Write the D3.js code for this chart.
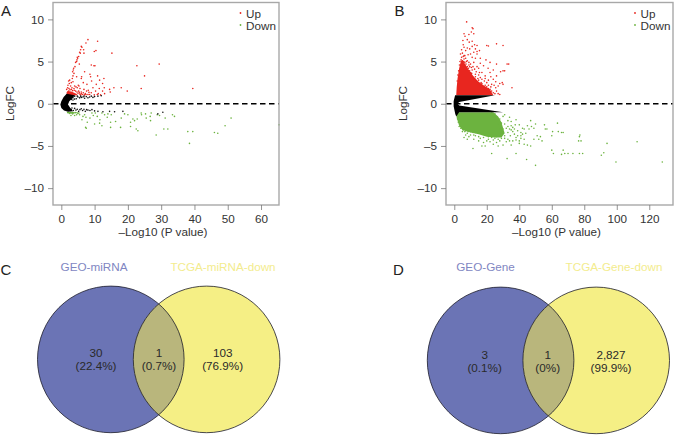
<!DOCTYPE html>
<html><head><meta charset="utf-8">
<script src="https://cdn.jsdelivr.net/npm/d3@7"></script>
<style>html,body{margin:0;padding:0;background:#fff}svg{display:block}text{font-family:"Liberation Sans",Arial,sans-serif}</style>
</head><body><svg id="c" width="674" height="435"></svg>
<script>
const yTicks=[-10,-5,0,5,10];
const xTicksA=[0,10,20,30,40,50,60];
const xTicksB=[0,20,40,60,80,100,120];
// Panel A: individually read points
const upA=[[8,7.6],[7.4,7.2],[10.9,7.4],[6,6.8],[6.2,6.7],[5.8,6.4],[6.7,6.4],[5.5,6.1],[6.8,6],[5.7,6],[10.4,6.3],[9.9,6.2],[15.2,6],[5.2,5.6],[4.9,5.4],[4.7,5.2],[4.6,5],[4.3,4.9],[4.8,5.5],[4.1,4.4],[3.7,4.2],[3.6,4],[3.4,3.8],[3.8,3.6],[3.5,3.3],[9,4.6],[9.8,4.5],[10.1,4.5],[5.4,4.7],[29.4,4.7],[22.7,4.5],[25,3.3],[7,3.8],[8.6,3.5],[8.8,3.2],[10.9,3.3],[12.8,3],[11.5,2.8],[12.4,2.4],[6.1,3.2],[6,3],[4.6,3.2],[3.3,3],[2.5,2.8],[2.2,2.7],[2.4,2.4],[3,2.5],[3.5,2.6],[5.1,2.2],[5.3,2.1],[6.6,2.5],[7.7,2.3],[9.1,2.7],[10.5,2.3],[11.4,1.8],[8.1,1.6],[12.9,1.9],[14.5,1.7],[14.7,1.4],[15.8,1.9],[18,1.9],[19.8,1.5],[24,1.8],[39.5,1.8],[12.4,1.5],[13,1.2],[11.1,1.2],[6,1.4],[6.4,1.1],[6.8,1.7],[7.2,1.2],[7.6,1.5],[8.5,1.1],[9,1.3],[9.5,1.9],[9.9,1.05],[10.3,1.5],[10.8,1.1],[11.8,1.05],[5.6,1.8],[5.2,1.5],[4.8,1.9],[4.4,2],[4,2.1],[2,2.2],[1.9,1.9],[2.8,2.1],[3.2,1.9],[3.8,1.8],[5.5,1.15],[6,1.2],[7,1.05],[8,1.1],[1.6,1.7],[2.3,1.8],[2.6,1.65],[3,1.7],[3.4,1.55],[3.9,1.6],[4.3,1.5],[4.7,1.4],[5,1.25],[5.4,1.35],[5.8,1.05],[6.6,1.3],[7.4,1.1],[8.3,1.35],[1.8,1.3],[2.2,1.5]];
const downA=[[65.4,-2.5],[51,-1.7],[49.2,-2.6],[47,-3.5],[46,-3.4],[39.5,-3.3],[38,-3.3],[38.5,-4.7],[28.5,-3.7],[23,-3.2],[22.5,-3],[30.8,-3],[32,-3],[34,-1.5],[33.4,-1.3],[31.2,-1.7],[29.5,-1.4],[28.8,-1.3],[27,-1.1],[26.7,-1.5],[26.8,-2],[25.5,-1.7],[25.3,-1.2],[24,-1.1],[24.1,-1.3],[22.8,-1.8],[22,-2],[21.5,-1.8],[20.8,-2.2],[20.8,-2.7],[20,-1.3],[19,-1.2],[18,-1.7],[17.8,-2.8],[16.3,-2.1],[15,-1.3],[14.8,-2.2],[14.8,-2.8],[14,-1.2],[13.8,-1.6],[13,-1.3],[12.2,-1.1],[12.2,-2.6],[11.6,-1.9],[11.5,-2.3],[10.8,-1.5],[10,-2.4],[10.2,-1.1],[9.6,-1.4],[9.2,-1.1],[8.6,-1.7],[7.8,-2.2],[7.5,-2.9],[7.3,-2.8],[7.4,-1.6],[7,-1.3],[6.5,-1.5],[6.2,-1.9],[5.5,-1.3],[5.3,-1.1],[4.6,-1.3],[4,-1.4],[3.7,-1.1],[3.4,-1.2],[2.9,-1.4],[2.5,-1.15],[2.2,-1.05],[2.7,-1.05],[3,-1.1],[3.3,-1.05],[4.3,-1.05],[4.8,-1.1],[5,-1.15],[1.9,-1.05]];
const midA=[[3,0.8],[3.5,0.7],[4,0.9],[4.5,0.6],[5,0.8],[5.5,0.7],[6,0.75],[6.5,0.8],[7,0.65],[7.5,0.85],[8,0.7],[8.5,0.8],[9,0.9],[9.5,0.75],[10,0.85],[11,0.9],[12,0.95],[3,0.5],[3.5,0.45],[4,0.55],[4.8,0.9],[5.8,0.9],[6.8,0.9],[2.5,-0.6],[3,-0.7],[3.2,-0.5],[3.6,-0.8],[4,-0.55],[4.4,-0.75],[4.8,-0.65],[5.2,-0.9],[5.6,-0.7],[6,-0.6],[6.4,-0.8],[6.8,-0.65],[7.2,-0.9],[7.6,-0.7],[8,-0.75],[8.6,-0.8],[9.2,-0.7],[10,-0.85],[11,-0.9],[12.5,-0.95],[14.5,-0.9],[16,-0.95],[18.5,-0.9],[30.5,-1],[29,-1.2]];
// Panel A: outlines of the solid, overplotted masses
const massMidA=[[1.6,1.2],[0.7,0.8],[0,0.3],[-0.3,-0.1],[0,-0.5],[0.8,-0.8],[2,-0.95],[3.5,-0.9],[2.8,-0.55],[2,-0.1],[2.4,0.3],[3.5,0.7],[4,1]];
const massUpA=[[1.5,1],[1.8,1.5],[3,1.45],[4.5,1.2],[5,1]];
const massDownA=[[1.9,-1],[2.1,-1.12],[4.2,-1.12],[5,-1]];
// Panel B: individually read points
const upB=[[7.6,9.7],[11,9],[11.5,8.9],[10.5,8.5],[9,8.2],[12,8.3],[6,8.3],[6.6,8],[5.3,7.5],[8,7.6],[9.2,7.3],[11,7.4],[12.5,7],[20,6.9],[21,6.85],[26,7.1],[30,6.9],[11,6.8],[14,6.9],[5.5,7],[6,6.7],[8,6.6],[9.5,6.5],[13,6.5],[14,6.2],[15.5,6.3],[12,6.1],[7,6.3],[4.5,6.4],[5,6],[10,5.9],[14,5.9],[3.8,5.9],[8.5,5.8],[6.5,5.7],[11,5.5],[13,5.4],[16,5.4],[19.5,5.2],[26,4.7],[22,4.9],[32.5,4.7],[33.5,4.7],[18,4.5],[16,4.8],[12,4.9],[10,4.7],[14,4.4],[15,4.2],[20.8,4.2],[24,4],[22,3.7],[17,3.7],[13.5,3.8],[26,3.3],[30,3.9],[31,3.9],[28.5,3.8],[22.5,3.2],[19,3.3],[24,2.9],[28,2.4],[29.5,2.5],[30,2.3],[27,2.1],[25.5,2.6],[35.5,1.9],[21,2.8],[23,2.3],[25.5,1.9],[22,1.7],[8,5.1],[9,4.9],[7,5.4],[6,5.7],[5.5,5.6],[4.5,5.5],[11.5,4.4],[12.5,4.1],[10.5,4.3],[9.5,4.4],[13,3.5],[15,3.4],[16,3.1],[17,2.9],[18.5,2.7],[20,2.5],[16.5,2.5],[20,2],[21,1.8],[23,1.5],[24,1.3],[25,1.2],[26,1.5],[27,1.2],[28,1.1],[24.5,2.2],[19,3],[14.5,3],[15.5,3.7],[3.5,5],[4.2,5.2],[5,5.1],[5.8,5],[6.5,4.9],[7.2,4.7],[8,4.4],[8.7,4.2],[9.4,3.9],[10,3.7],[10.7,3.6],[11.3,3.2],[12,3],[12.7,2.9],[13.4,2.7],[14,2.6],[14.8,2.4],[15.5,2.3],[16,2],[17,2.1],[17.7,1.9],[18.5,1.8],[19.2,1.6],[20,1.5],[21,1.4],[22,1.3],[23,1.1],[18,1.4],[20.5,1.15],[3.2,4.6],[2.7,3.9],[2.2,3.4],[1.8,2.7],[6,5.3],[7.5,5],[9,4.6],[11,4],[13,3.2],[15,2.8],[17,2.4],[19,2.2],[21,2.2],[22.5,2]];
const downB=[[128,-6.9],[112.5,-4.5],[99.5,-6.9],[94,-4.7],[92,-5.8],[90.5,-6.1],[79,-5.9],[77,-5.9],[78,-4.4],[76.5,-4.4],[77,-3.9],[77.3,-3.7],[73,-5.9],[70,-5.9],[68,-5.9],[67,-5.5],[66,-6],[61,-5.9],[60,-5.5],[50,-7.3],[44.5,-6.6],[32.5,-6.5],[23,-5.9],[38,-5.9],[11.5,-5.3],[17,-5],[19,-5],[24,-4.8],[27,-5],[30,-4.9],[35,-4.9],[40,-4.7],[43,-4.8],[45,-4.9],[47,-5],[49,-4.2],[51,-3.8],[52,-4.2],[53,-3.9],[54,-4.4],[60,-3.8],[64,-3.3],[66,-3.4],[67,-3.4],[60.5,-3.3],[63.5,-2.3],[55.5,-2.5],[57,-3],[56,-3],[47,-2],[50,-2.4],[49,-2.9],[45,-2.6],[43,-3],[46,-3],[47.5,-2.7],[40,-2.5],[42,-2.9],[38,-1.9],[35,-2.1],[34,-1.6],[30,-1.5],[8,-4.2],[6,-4],[12,-4.2],[15,-4.4],[18,-4.6],[22,-4.5],[26,-4.6],[32,-4.5],[36,-4.4],[38,-4.3],[41,-4.1],[42,-3.6],[44,-3.5],[37,-3.6],[39,-3.2],[41,-3.4],[36,-2.8],[37.5,-2.5],[33,-2],[31,-1.3],[35,-3.1],[38,-4],[40,-4.4],[34,-4.4],[28,-4.4],[24,-4.3],[20,-4.4],[16,-4.1],[13,-3.8],[10,-3.7],[8,-3.5],[6.5,-3.3],[5,-3.3],[9,-3.9],[4,-2.9],[3,-2.7],[5.5,-3.1],[7,-3.2],[8.5,-3.3],[10,-3.3],[11.5,-3.4],[13,-3.4],[14.5,-3.5],[16,-3.5],[17.5,-3.6],[19,-3.7],[21,-3.9],[23,-4],[25,-4.1],[27,-4.2],[29,-4.1],[31,-4.1],[33,-4.2],[34.5,-3.8],[33,-3.4],[31,-3.8],[29,-3.5],[30,-3],[28,-3],[32,-2.9],[31,-2.4],[29,-2.3],[28,-1.8],[26,-1.6],[27,-2.4],[24,-1.5],[22,-1.3],[25,-1.2],[23,-1.1],[20,-1.2],[26,-3.9],[28,-3.8],[30,-3.4],[33,-2.7],[35,-2.6],[36,-3.3],[34,-3],[37,-3],[39,-3.8],[41,-3.8],[43,-4.2],[12,-3.7],[15,-3.9],[18,-4],[21,-4.2],[7,-3.7],[5,-2.9],[3.5,-2.2],[2.5,-2.2],[2,-1.8]];
// Panel B: outlines of the solid, overplotted masses
const massUpB=[[1.2,1],[1.5,2],[2,3],[3,4.2],[4,5],[5,5.2],[7,4.6],[9,4],[12,3.2],[15,2.6],[18,2.2],[22,1.7],[24,1]];
const massMidB=[[0.5,1],[25,1],[3,0.2],[2,0],[3,-0.2],[30,-1],[3,-1],[1.2,-1.5],[0.6,-1.2],[-0.4,-0.3],[-0.4,0.3]];
const massDownB=[[1.2,-1],[1.5,-1.7],[3,-2.6],[5,-3.1],[10,-3.4],[15,-3.6],[20,-3.9],[25,-4],[29,-4],[31,-3.5],[29,-2.2],[27,-1.5],[24,-1]];
// Venn regions
const vennLabelsC=["30","1","103"], vennPctC=["(22.4%)","(0.7%)","(76.9%)"];
const vennLabelsD=["3","1","2,827"], vennPctD=["(0.1%)","(0%)","(99.9%)"];
const RED="#e8261f",GREEN="#6cb33f",TXT="#333",FRAME="#a8a8a8",BLUE="#6b74b5",YEL="#f5ef85",OVER="#b9b67c",FS=11.7;
const svg=d3.select("#c");
function volcano(o){
  const x=d3.scaleLinear().domain(o.xd).range([o.l,o.r]);
  const y=d3.scaleLinear().domain([-12,12]).range([205,2.5]);
  const g=svg.append("g");
  const line=d3.line().x(d=>x(d[0])).y(d=>y(d[1])).curve(d3.curveLinearClosed);
  const mass=(d,c)=>g.append("path").attr("d",line(d)).attr("fill",c);
  const dots=(d,c)=>g.append("g").selectAll("circle").data(d).join("circle").attr("cx",p=>x(p[0])).attr("cy",p=>y(p[1])).attr("r",.8).attr("fill",c);
  mass(o.mu,RED);mass(o.md,GREEN);
  dots(o.up,RED);dots(o.down,GREEN);if(o.mid)dots(o.mid,"#111");
  mass(o.mm,"#000");
  g.append("line").attr("x1",o.l).attr("x2",o.r).attr("y1",y(0)).attr("y2",y(0)).attr("stroke","#000").attr("stroke-width",1.4).attr("stroke-dasharray","5.5 3.5");
  g.append("rect").attr("x",o.l).attr("y",2.5).attr("width",o.r-o.l).attr("height",202.5).attr("fill","none").attr("stroke",FRAME).attr("stroke-width",1.4);
  const fmt=d=>d<0?"–"+Math.abs(d):""+d;
  const ax=g.append("g").attr("transform","translate(0,205)").call(d3.axisBottom(x).tickValues(o.xt).tickFormat(fmt).tickSize(5).tickPadding(5));
  const ay=g.append("g").attr("transform",`translate(${o.l},0)`).call(d3.axisLeft(y).tickValues(yTicks).tickFormat(fmt).tickSize(5).tickPadding(4));
  [ax,ay].forEach(a=>{a.select(".domain").remove();a.selectAll("line").attr("stroke","#777").attr("stroke-width",.8);a.selectAll("text").attr("fill",TXT).attr("font-size",FS).attr("font-family",'"Liberation Sans",sans-serif');});
  g.append("text").attr("x",(o.l+o.r)/2-3).attr("y",236).attr("text-anchor","middle").attr("font-size",FS).attr("fill",TXT).text("–Log10 (P value)");
  g.append("text").attr("transform",`translate(${o.l-39},103.5) rotate(-90)`).attr("text-anchor","middle").attr("font-size",FS).attr("fill",TXT).text("LogFC");
  [["Up",RED,18],["Down",GREEN,30]].forEach(([t,c,b])=>{
    g.append("circle").attr("cx",o.lx).attr("cy",b-5).attr("r",.9).attr("fill",c);
    g.append("text").attr("x",o.lx+5.5).attr("y",b).attr("font-size",FS).attr("fill",TXT).text(t);
  });
  g.append("text").attr("x",o.px).attr("y",16).attr("font-size",15).attr("fill","#222").text(o.name);
}
volcano({name:"A",px:1,l:53,r:279,xd:[-2.5,65.4],xt:xTicksA,up:upA,down:downA,mid:midA,mu:massUpA,md:massDownA,mm:massMidA,lx:240.5});
volcano({name:"B",px:394.5,l:446,r:673,xd:[-5.1,134.6],xt:xTicksB,up:upB,down:downB,mu:massUpB,md:massDownB,mm:massMidB,lx:635});
function venn(o){
  const g=svg.append("g");
  const id="clip"+o.name;
  g.append("clipPath").attr("id",id).append("circle").attr("cx",o.c1).attr("cy",o.cy).attr("r",o.r);
  g.append("circle").attr("cx",o.c1).attr("cy",o.cy).attr("r",o.r).attr("fill",BLUE);
  g.append("circle").attr("cx",o.c2).attr("cy",o.cy).attr("r",o.r).attr("fill",YEL);
  g.append("circle").attr("cx",o.c2).attr("cy",o.cy).attr("r",o.r).attr("fill",OVER).attr("clip-path",`url(#${id})`);
  [o.c1,o.c2].forEach(c=>g.append("circle").attr("cx",c).attr("cy",o.cy).attr("r",o.r).attr("fill","none").attr("stroke","#1c1c2a").attr("stroke-width",.8));
  o.tx.forEach((t,i)=>{
    g.append("text").attr("x",t).attr("y",o.b).attr("text-anchor","middle").attr("font-size",FS).attr("fill","#2a2a2a").text(o.labels[i]);
    g.append("text").attr("x",t).attr("y",o.b+13.7).attr("text-anchor","middle").attr("font-size",FS).attr("fill","#2a2a2a").text(o.pct[i]);
  });
  g.append("text").attr("x",o.t1).attr("y",270.5).attr("text-anchor","middle").attr("font-size",FS).attr("fill","#7f86c2").text(o.n1);
  g.append("text").attr("x",o.t2).attr("y",270.5).attr("text-anchor","middle").attr("font-size",FS).attr("fill","#f3ec8e").text(o.n2);
  g.append("text").attr("x",o.px).attr("y",275).attr("font-size",15).attr("fill","#222").text(o.name);
}
venn({name:"C",px:0.5,c1:110.8,c2:206.6,cy:359.4,r:73.3,b:356.5,tx:[96,159,222.7],labels:vennLabelsC,pct:vennPctC,t1:94,t2:223,n1:"GEO-miRNA",n2:"TCGA-miRNA-down"});
venn({name:"D",px:393,c1:500.6,c2:596.2,cy:360.4,r:73.3,b:358.5,tx:[484.7,547.7,611],labels:vennLabelsD,pct:vennPctD,t1:485.5,t2:614,n1:"GEO-Gene",n2:"TCGA-Gene-down"});
</script></body></html>
